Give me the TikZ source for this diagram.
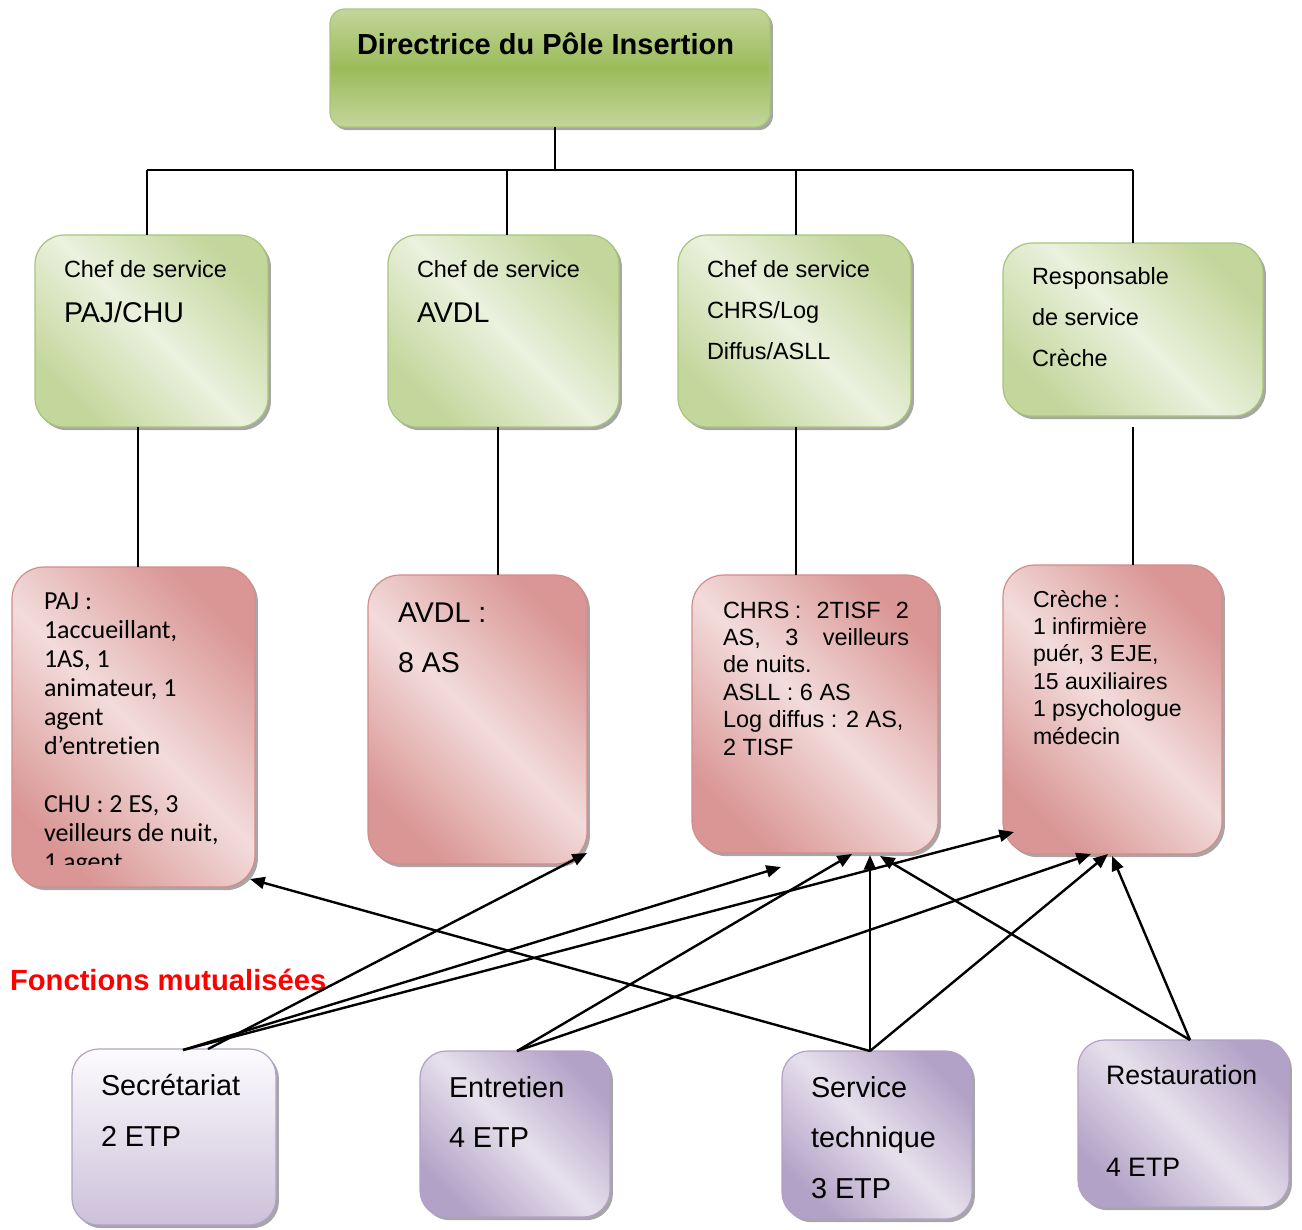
\documentclass[tikz,border=0pt]{standalone}
\usepackage{fontspec}
\setmainfont{Liberation Sans}
\newfontfamily\calibfont[Ligatures=NoCommon]{Carlito}
\usetikzlibrary{arrows.meta,shadows,fit}

\definecolor{grnDark}{HTML}{9BBB59}
\definecolor{grnMid}{HTML}{C3D69B}
\definecolor{grnLight}{HTML}{EBF1DE}
\definecolor{grnEdge}{HTML}{A8C47A}
\definecolor{pnkDark}{HTML}{D99694}
\definecolor{pnkLight}{HTML}{F2DCDB}
\definecolor{pnkEdge}{HTML}{D38C8A}
\definecolor{vioDark}{HTML}{B3A2C7}
\definecolor{vioLight}{HTML}{E6E0EC}
\definecolor{vioPale}{HTML}{FCFBFD}
\definecolor{vioLow}{HTML}{CCC1DA}
\definecolor{vioEdge}{HTML}{B2A1C7}
\definecolor{titleRed}{HTML}{FF0000}

\begin{document}
\begin{tikzpicture}[x=0.75pt,y=-0.75pt,
  box/.style={draw, line width=0.9pt, inner sep=0pt, outer sep=0pt,
    drop shadow={shadow xshift=2.2pt, shadow yshift=-2.4pt, fill=black, opacity=0.35}},
  topbox/.style={box, rounded corners=11pt, draw=grnEdge,
    top color=grnMid, bottom color=grnMid, middle color=grnDark},
  gbox/.style={box, rounded corners=22pt, draw=grnEdge,
    top color=grnMid, bottom color=grnMid, middle color=grnLight, shading angle=-45},
  pbox/.style={box, rounded corners=24pt, draw=pnkEdge,
    top color=pnkDark, bottom color=pnkDark, middle color=pnkLight, shading angle=-45},
  vbox/.style={box, rounded corners=20pt, draw=vioEdge,
    top color=vioDark, bottom color=vioDark, middle color=vioLight, shading angle=-45},
  vpale/.style={box, rounded corners=20pt, draw=vioEdge,
    top color=vioPale, bottom color=vioLow},
  lbl/.style={anchor=base west, inner sep=0pt, outer sep=0pt},
  tree/.style={line width=1.1pt, draw=black},
  arr/.style={line width=1.8pt, draw=black, -{Triangle[length=11pt,width=9pt]}}
]
\useasboundingbox (0,0) rectangle (1302,1229);

% ---- boxes ----
\node (dir) [topbox, fit={(330,9) (770,127)}] {};

\node (g1) [gbox, fit={(35,235) (268,427)}] {};
\node (g2) [gbox, fit={(388,235) (619,427)}] {};
\node (g3) [gbox, fit={(678,235) (911,427)}] {};
\node (g4) [gbox, fit={(1003,243) (1263,416)}] {};

\node (p1) [pbox, fit={(12,567) (255,887)}] {};
\node (p2) [pbox, fit={(368,575) (587,864)}] {};
\node (p3) [pbox, fit={(692,575) (938,853)}] {};
\node (p4) [pbox, fit={(1003,565) (1222,854)}] {};

\node (s1) [vpale, fit={(72,1049) (276,1225)}] {};
\node (s2) [vbox, fit={(420,1051) (610,1217)}] {};
\node (s3) [vbox, fit={(782,1051) (972,1219)}] {};
\node (s4) [vbox, fit={(1078,1040) (1289,1207)}] {};

% ---- texts ----
\node[lbl] (t-dir) at (357,54) {\fontsize{21.75pt}{26pt}\selectfont\bfseries Directrice du Pôle Insertion};

\node[lbl] (t-g1a) at (64,277) {\fontsize{17.6pt}{21pt}\selectfont Chef de service};
\node[lbl] (t-g1b) at (64,322) {\fontsize{21.4pt}{25pt}\selectfont PAJ/CHU};
\node[lbl] (t-g2a) at (417,277) {\fontsize{17.6pt}{21pt}\selectfont Chef de service};
\node[lbl] (t-g2b) at (417,322) {\fontsize{21.4pt}{25pt}\selectfont AVDL};
\node[lbl] (t-g3) at (707,277) {\parbox[t]{200pt}{\fontsize{17.6pt}{30.75pt}\selectfont
  Chef de service\\ CHRS/Log\\ Diffus/ASLL}};
\node[lbl] (t-g4) at (1032,284.5) {\parbox[t]{200pt}{\fontsize{17.6pt}{30.75pt}\selectfont
  Responsable\\ de service\\ Crèche}};

\begin{scope}
  \clip (12,560) rectangle (260,864);
  \node[lbl] (t-p1) at (44,609) {\parbox[t]{200pt}{\calibfont\fontsize{19.5pt}{21.75pt}\selectfont
    PAJ :\\ 1accueillant,\\ 1AS, 1\\ animateur, 1\\ agent\\ d’entretien\\ \mbox{}\\
    CHU : 2 ES, 3\\ veilleurs de nuit,\\ 1 agent}};
\end{scope}

\node[lbl] (t-p2) at (398,622) {\parbox[t]{200pt}{\fontsize{21.4pt}{37.5pt}\selectfont
  AVDL :\\ 8 AS}};

\node[lbl] (t-p3) at (723,618) {\parbox[t]{139.5pt}{\fontsize{17.6pt}{20.55pt}\selectfont
  \makebox[139.5pt][s]{CHRS\kern4pt: 2TISF 2}\\
  \makebox[139.5pt][s]{AS, 3 veilleurs}\\
  de nuits.\\ ASLL : 6 AS\\ Log diffus : 2 AS,\\ 2 TISF}};

\node[lbl] (t-p4) at (1033,607) {\parbox[t]{200pt}{\fontsize{17.3pt}{20.55pt}\selectfont
  Crèche :\\ 1 infirmière\\ puér, 3 EJE,\\ 15 auxiliaires\\ 1 psychologue\\ médecin}};

\node[lbl] (t-s1) at (101,1095) {\parbox[t]{200pt}{\fontsize{21.6pt}{38.25pt}\selectfont
  Secrétariat\\ 2 ETP}};
\node[lbl] (t-s2) at (449,1097) {\parbox[t]{200pt}{\fontsize{21.6pt}{37.5pt}\selectfont
  Entretien\\ 4 ETP}};
\node[lbl] (t-s3) at (811,1097) {\parbox[t]{200pt}{\fontsize{21.6pt}{37.9pt}\selectfont
  Service\\ technique\\ 3 ETP}};
\node[lbl] (t-s4a) at (1106,1084) {\fontsize{20pt}{24pt}\selectfont Restauration};
\node[lbl] (t-s4b) at (1106,1176) {\fontsize{20pt}{24pt}\selectfont 4 ETP};

\node[lbl, text=titleRed] (t-fm) at (10,990) {\fontsize{21.9pt}{26pt}\selectfont\bfseries Fonctions mutualisées};

% ---- hierarchy lines ----
\coordinate (bus) at (555,170);
\coordinate (h1) at (147,170);
\coordinate (h2) at (507,170);
\coordinate (h3) at (796,170);
\coordinate (h4) at (1133,170);
\draw[tree] (bus |- dir.south) -- (bus);
\draw[tree] (h1) -- (h4);
\draw[tree] (h1) -- (h1 |- g1.north);
\draw[tree] (h2) -- (h2 |- g2.north);
\draw[tree] (h3) -- (h3 |- g3.north);
\draw[tree] (h4) -- (h4 |- g4.north);

\coordinate (d1) at (138,427);
\coordinate (d2) at (498,427);
\coordinate (d3) at (796,427);
\coordinate (d4) at (1133,427);
\draw[tree] (d1) -- (d1 |- p1.north);
\draw[tree] (d2) -- (d2 |- p2.north);
\draw[tree] (d3) -- (d3 |- p3.north);
\draw[tree] (d4) -- (d4 |- p4.north);

% ---- shared services arrows ----
\coordinate (s1a) at (208,1049);
\coordinate (s1b) at (183,1050);
\coordinate (s2a) at (517,1051);
\coordinate (s3a) at (870,1051);
\coordinate (s4a) at (1190,1040);

\coordinate (p1in) at (250,879);
\coordinate (p2in) at (587,853);
\coordinate (freeEnd) at (781,867);
\coordinate (p3in1) at (852,854);
\coordinate (p3in2) at (870,855);
\coordinate (p3in3) at (880,856);
\coordinate (p4in0) at (1014,832);
\coordinate (p4in1) at (1091,854);
\coordinate (p4in2) at (1108,854);
\coordinate (p4in3) at (1112,856);

\draw[arr] (s1a) -- (p2in);
\draw[arr] (s1b) -- (freeEnd);
\draw[arr] (s1b) -- (p4in0);
\draw[arr] (s2a) -- (p3in1);
\draw[arr] (s2a) -- (p4in1);
\draw[arr] (s3a) -- (p1in);
\draw[arr] (s3a) -- (p3in2);
\draw[arr] (s3a) -- (p4in2);
\draw[arr] (s4a) -- (p3in3);
\draw[arr] (s4a) -- (p4in3);
\end{tikzpicture}
\end{document}
